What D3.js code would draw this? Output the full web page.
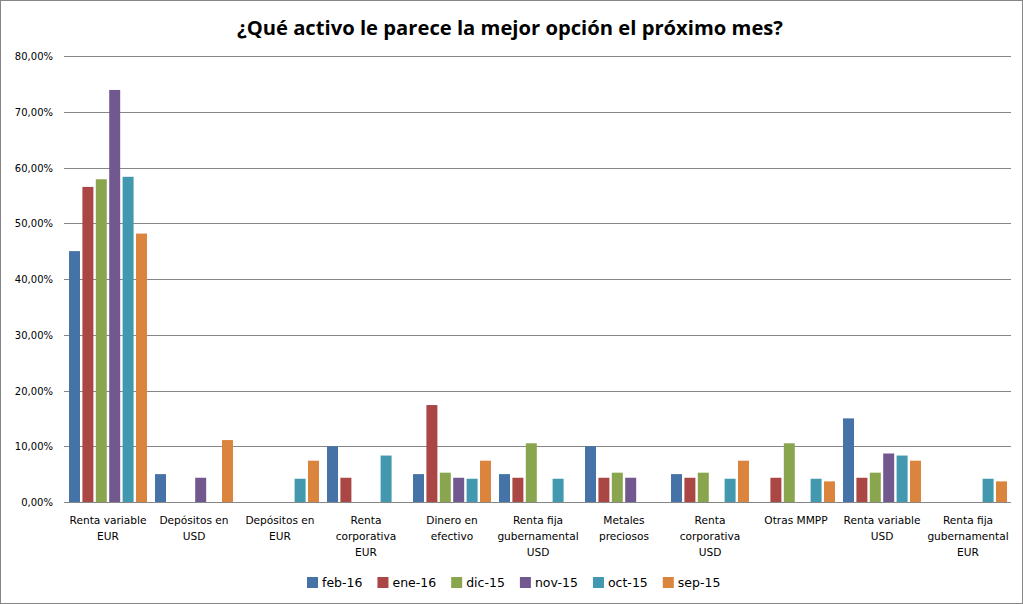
<!DOCTYPE html>
<html><head><meta charset="utf-8">
<script src="https://cdn.jsdelivr.net/npm/d3@7"></script>
<style>body{margin:0;background:#fff}svg{display:block}</style>
</head><body>
<svg id="c" width="1023" height="604"></svg>
<script>
const categories = ["Renta variable EUR","Depósitos en USD","Depósitos en EUR","Renta corporativa EUR","Dinero en efectivo","Renta fija gubernamental USD","Metales preciosos","Renta corporativa USD","Otras MMPP","Renta variable USD","Renta fija gubernamental EUR"];
const categoryLines = [["Renta variable","EUR"],["Depósitos en","USD"],["Depósitos en","EUR"],["Renta","corporativa","EUR"],["Dinero en","efectivo"],["Renta fija","gubernamental","USD"],["Metales","preciosos"],["Renta","corporativa","USD"],["Otras MMPP"],["Renta variable","USD"],["Renta fija","gubernamental","EUR"]];
const seriesNames = ["feb-16","ene-16","dic-15","nov-15","oct-15","sep-15"];
const feb16 = [45.00, 5.00, 0, 10.00, 5.00, 5.00, 10.00, 5.00, 0, 15.00, 0];
const ene16 = [56.52, 0, 0, 4.35, 17.39, 4.35, 4.35, 4.35, 4.35, 4.35, 0];
const dic15 = [57.89, 0, 0, 0, 5.26, 10.53, 5.26, 5.26, 10.53, 5.26, 0];
const nov15 = [73.91, 4.35, 0, 0, 4.35, 0, 4.35, 0, 0, 8.70, 0];
const oct15 = [58.33, 0, 4.17, 8.33, 4.17, 4.17, 0, 4.17, 4.17, 8.33, 4.17];
const sep15 = [48.15, 11.11, 7.41, 0, 7.41, 0, 0, 7.41, 3.70, 7.41, 3.70];
const seriesValues = [feb16, ene16, dic15, nov15, oct15, sep15];
const colors = ["#4572A7","#AA4643","#89A54E","#71588F","#4198AF","#DB843D"];
const yTicks = [0,10,20,30,40,50,60,70,80];
const title = "¿Qué activo le parece la mejor opción el próximo mes?";

const svg = d3.select("#c");
svg.append("rect").attr("x",0.5).attr("y",0.5).attr("width",1022).attr("height",603)
  .attr("fill","#fff").attr("stroke","#868686");

const x = d3.scaleBand().domain(categories).range([65,1011]);
const xs = d3.scaleBand().domain(seriesNames).range([0,x.bandwidth()]).paddingInner(0.18).paddingOuter(0.3);
const y = d3.scaleLinear().domain([0,80]).range([502,56]);

// gridlines
svg.append("g").selectAll("line").data(yTicks).join("line")
  .attr("x1",64).attr("x2",1011)
  .attr("y1",d=>Math.round(y(d))+0.5).attr("y2",d=>Math.round(y(d))+0.5)
  .attr("stroke","#868686").attr("stroke-width",1);

// y labels
const fmt = d => d.toFixed(2).replace(".",",") + "%";
svg.append("g").selectAll("text").data(yTicks).join("text")
  .attr("x",53).attr("y",d=>y(d)+4)
  .attr("text-anchor","end")
  .attr("font-family","DejaVu Sans, Verdana, sans-serif").attr("font-size",10)
  .attr("fill","#000").text(fmt);

// bars
const data = [];
seriesNames.forEach((s,i)=>categories.forEach((c,j)=>{
  if (seriesValues[i][j] > 0) data.push({s, c, v: seriesValues[i][j], color: colors[i]});
}));
svg.append("g").selectAll("rect").data(data).join("rect")
  .attr("x",d=>x(d.c)+xs(d.s))
  .attr("width",xs.bandwidth())
  .attr("y",d=>y(d.v))
  .attr("height",d=>y(0)-y(d.v))
  .attr("fill",d=>d.color);

// x labels
const xl = svg.append("g");
categories.forEach((c,j)=>{
  const t = xl.append("text")
    .attr("x",x(c)+x.bandwidth()/2).attr("y",524)
    .attr("text-anchor","middle")
    .attr("font-family","DejaVu Sans, Verdana, sans-serif").attr("font-size",10.6)
    .attr("fill","#000");
  categoryLines[j].forEach((ln,k)=>{
    t.append("tspan").attr("x",x(c)+x.bandwidth()/2).attr("dy",k===0?0:16).text(ln);
  });
});

// title
svg.append("text").attr("x",510).attr("y",35).attr("text-anchor","middle")
  .attr("font-family","Liberation Sans Narrow, Open Sans, sans-serif")
  .attr("font-weight","bold").attr("font-size",20)
  .attr("textLength",546).attr("lengthAdjust","spacingAndGlyphs")
  .attr("fill","#000").text(title);

// legend
const lg = svg.append("g");
let lx = 307;
seriesNames.forEach((s,i)=>{
  lg.append("rect").attr("x",lx).attr("y",577).attr("width",11).attr("height",11).attr("fill",colors[i]);
  const t = lg.append("text").attr("x",lx+15).attr("y",587)
    .attr("font-family","DejaVu Sans, Verdana, sans-serif").attr("font-size",12.5)
    .attr("fill","#000").text(s);
  lx += 15 + t.node().getComputedTextLength() + 15;
});
</script>
</body></html>
